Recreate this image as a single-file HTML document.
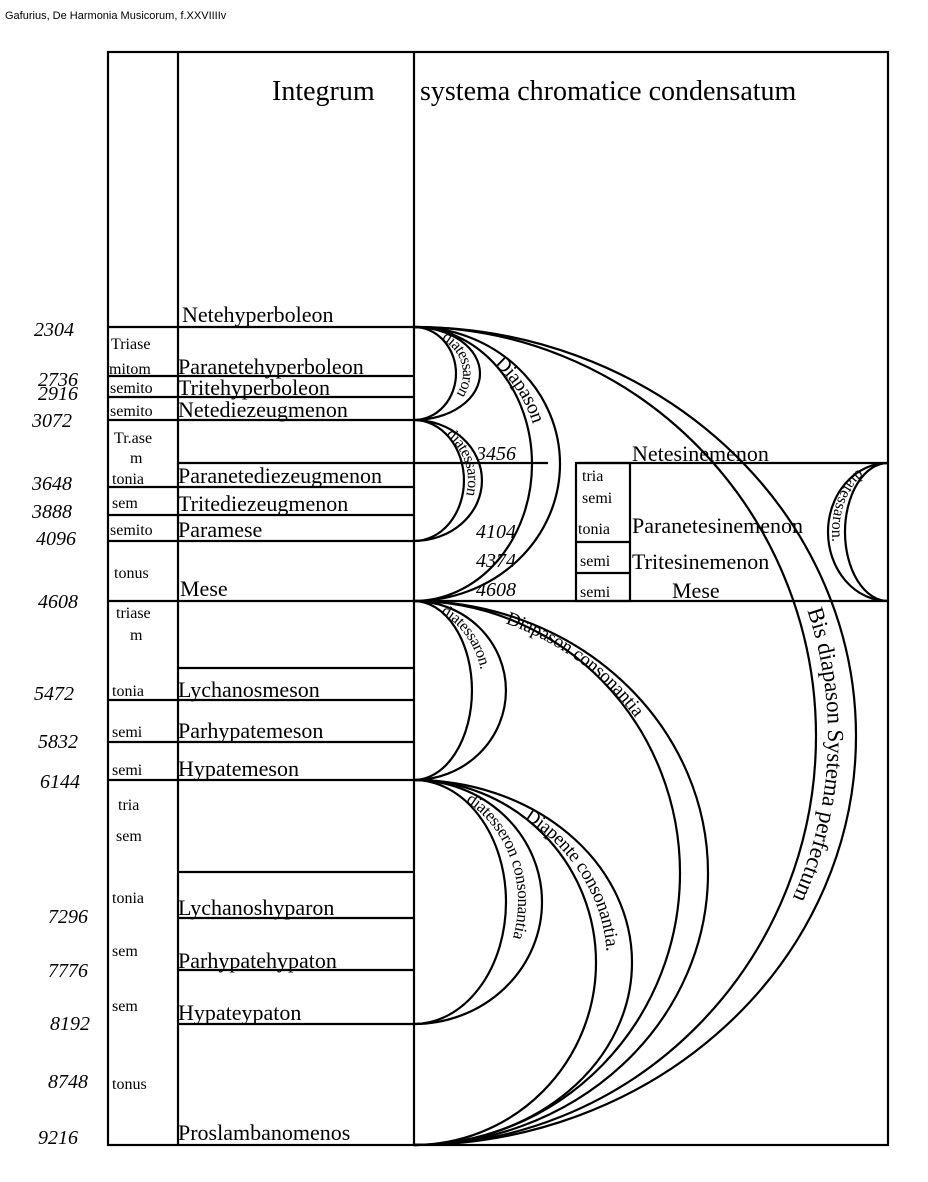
<!DOCTYPE html>
<html><head><meta charset="utf-8"><style>
html,body{margin:0;padding:0;background:#fff;width:928px;height:1182px;overflow:hidden}
svg{display:block}
text{font-family:"Liberation Serif",serif;fill:#000}
.cap{font-family:"Liberation Sans",sans-serif;font-size:11px}
.n{font-size:22px}
.s{font-size:16px}
.num{font-size:20px;font-style:italic}
.a{font-size:16px}
</style></head><body>
<svg width="928" height="1182" viewBox="0 0 928 1182">
<text class="cap" x="5" y="19">Gafurius, De Harmonia Musicorum, f.XXVIIIIv</text>
<g stroke="#000" stroke-width="2.2" fill="none">
<rect x="108" y="52" width="780" height="1093"/>
<line x1="178" y1="52" x2="178" y2="1145"/>
<line x1="414" y1="52" x2="414" y2="1145"/>
<line x1="108" y1="327" x2="414" y2="327"/>
<line x1="108" y1="376" x2="414" y2="376"/>
<line x1="108" y1="397" x2="414" y2="397"/>
<line x1="108" y1="420" x2="414" y2="420"/>
<line x1="178" y1="463" x2="548" y2="463"/>
<line x1="578" y1="463" x2="888" y2="463"/>
<line x1="108" y1="487" x2="414" y2="487"/>
<line x1="108" y1="515" x2="414" y2="515"/>
<line x1="108" y1="541" x2="414" y2="541"/>
<line x1="108" y1="601" x2="888" y2="601"/>
<line x1="178" y1="668" x2="414" y2="668"/>
<line x1="108" y1="700" x2="414" y2="700"/>
<line x1="108" y1="742" x2="414" y2="742"/>
<line x1="108" y1="780" x2="414" y2="780"/>
<line x1="178" y1="872" x2="414" y2="872"/>
<line x1="178" y1="918" x2="414" y2="918"/>
<line x1="178" y1="970" x2="414" y2="970"/>
<line x1="178" y1="1024" x2="414" y2="1024"/>
<rect x="576" y="463" width="54" height="138"/>
<line x1="576" y1="542" x2="630" y2="542"/>
<line x1="576" y1="573" x2="630" y2="573"/>
<path d="M414 327 A42 46.5 0 0 1 414 420"/>
<path d="M414 327 A66 46.5 0 0 1 414 420"/>
<path d="M414 420 A50 60.5 0 0 1 414 541"/>
<path d="M414 420 A68 60.5 0 0 1 414 541"/>
<path d="M414 327 A118 137 0 0 1 414 601"/>
<path d="M414 327 A146 137 0 0 1 414 601"/>
<path d="M414 601 A58 89.5 0 0 1 414 780"/>
<path d="M414 601 A92 89.5 0 0 1 414 780"/>
<path d="M414 780 A92 122 0 0 1 414 1024"/>
<path d="M414 780 A128 122 0 0 1 414 1024"/>
<path d="M414 780 A182 182.5 0 0 1 414 1145"/>
<path d="M414 780 A218 182.5 0 0 1 414 1145"/>
<path d="M414 601 A266 272 0 0 1 414 1145"/>
<path d="M414 601 A294 272 0 0 1 414 1145"/>
<path d="M414 327 A402 409 0 0 1 414 1145"/>
<path d="M414 327 A442 409 0 0 1 414 1145"/>
<path d="M888 463 A43 69 0 0 0 888 601"/>
<path d="M888 463 A60 69 0 0 0 888 601"/>
</g>
<defs>
<path id="p1" d="M414 327 A54 46.5 0 0 1 414 420"/>
<path id="p2" d="M414 420 A59 60.5 0 0 1 414 541"/>
<path id="p3" d="M414 327 A132 137 0 0 1 414 601"/>
<path id="p4" d="M414 601 A75 89.5 0 0 1 414 780"/>
<path id="p5" d="M414 780 A110 122 0 0 1 414 1024"/>
<path id="p6" d="M414 780 A200 182.5 0 0 1 414 1145"/>
<path id="p7" d="M414 601 A280 272 0 0 1 414 1145"/>
<path id="p8" d="M414 327 A422 409 0 0 1 414 1145"/>
<path id="p9" d="M888 463 A51 69 0 0 0 888 601"/>
</defs>
<g class="a">
<text dy="5"><textPath href="#p1" startOffset="20%">diatessaron</textPath></text>
<text dy="5"><textPath href="#p2" startOffset="20%">diatessaron</textPath></text>
<text dy="7" style="font-size:20px"><textPath href="#p3" startOffset="22%">Diapason</textPath></text>
<text dy="6"><textPath href="#p4" startOffset="12%">diatessaron.</textPath></text>
<text dy="6" style="font-size:17px"><textPath href="#p5" startOffset="16%">diatesseron consonantia</textPath></text>
<text dy="7" style="font-size:19px"><textPath href="#p6" startOffset="20%">Diapente consonantia.</textPath></text>
<text dy="7" style="font-size:19px"><textPath href="#p7" startOffset="11%">Diapason consonantia</textPath></text>
<text dy="8" style="font-size:23px"><textPath href="#p8" startOffset="40%">Bis diapason Systema perfectum</textPath></text>
<text dy="5"><textPath href="#p9" startOffset="15%">diatessaron.</textPath></text>
</g>
<text x="272" y="100" style="font-size:28px">Integrum</text>
<text x="420" y="100" style="font-size:28px">systema chromatice condensatum</text>
<g class="n">
<text x="182" y="322">Netehyperboleon</text>
<text x="178" y="374">Paranetehyperboleon</text>
<text x="178" y="395">Tritehyperboleon</text>
<text x="178" y="417">Netediezeugmenon</text>
<text x="178" y="483">Paranetediezeugmenon</text>
<text x="178" y="511">Tritediezeugmenon</text>
<text x="178" y="537">Paramese</text>
<text x="180" y="596">Mese</text>
<text x="178" y="697">Lychanosmeson</text>
<text x="178" y="738">Parhypatemeson</text>
<text x="178" y="776">Hypatemeson</text>
<text x="178" y="915">Lychanoshyparon</text>
<text x="178" y="968">Parhypatehypaton</text>
<text x="178" y="1020">Hypateypaton</text>
<text x="178" y="1140">Proslambanomenos</text>
<text x="632" y="461">Netesinemenon</text>
<text x="632" y="533">Paranetesinemenon</text>
<text x="632" y="569">Tritesinemenon</text>
<text x="672" y="598">Mese</text>
</g>
<g class="s">
<text x="111" y="349">Triase</text>
<text x="109" y="374">mitom</text>
<text x="110" y="393">semito</text>
<text x="110" y="416">semito</text>
<text x="114" y="443">Tr.ase</text>
<text x="130" y="463">m</text>
<text x="112" y="484">tonia</text>
<text x="112" y="508">sem</text>
<text x="110" y="535">semito</text>
<text x="114" y="578">tonus</text>
<text x="116" y="618">triase</text>
<text x="130" y="640">m</text>
<text x="112" y="696">tonia</text>
<text x="112" y="737">semi</text>
<text x="112" y="775">semi</text>
<text x="118" y="810">tria</text>
<text x="116" y="841">sem</text>
<text x="112" y="903">tonia</text>
<text x="112" y="956">sem</text>
<text x="112" y="1011">sem</text>
<text x="112" y="1089">tonus</text>
<text x="582" y="481">tria</text>
<text x="582" y="503">semi</text>
<text x="578" y="534">tonia</text>
<text x="580" y="566">semi</text>
<text x="580" y="597">semi</text>
</g>
<g class="num">
<text x="34" y="336">2304</text>
<text x="38" y="386">2736</text>
<text x="38" y="400">2916</text>
<text x="32" y="427">3072</text>
<text x="32" y="490">3648</text>
<text x="32" y="518">3888</text>
<text x="36" y="545">4096</text>
<text x="38" y="608">4608</text>
<text x="34" y="700">5472</text>
<text x="38" y="748">5832</text>
<text x="40" y="788">6144</text>
<text x="48" y="923">7296</text>
<text x="48" y="977">7776</text>
<text x="50" y="1030">8192</text>
<text x="48" y="1088">8748</text>
<text x="38" y="1144">9216</text>
<text x="476" y="460">3456</text>
<text x="476" y="538">4104</text>
<text x="476" y="567">4374</text>
<text x="476" y="596">4608</text>
</g>
</svg>
</body></html>
